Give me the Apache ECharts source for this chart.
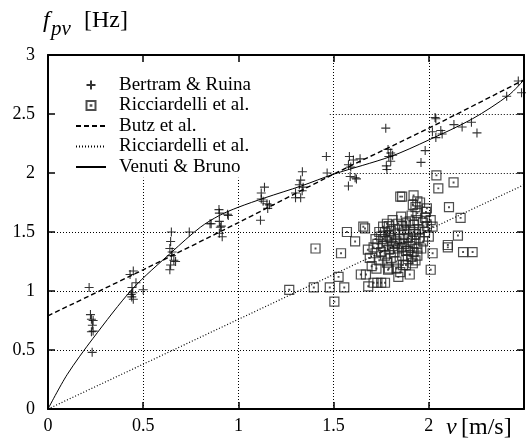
<!DOCTYPE html>
<html>
<head>
<meta charset="utf-8">
<script src="https://cdn.jsdelivr.net/npm/echarts@6/dist/echarts.min.js"></script>
<style>
  html, body { margin: 0; padding: 0; background: #fff; }
  #chart { width: 527px; height: 441px; }
</style>
</head>
<body>
<div id="chart"></div>
<script>
// axis ticks
const xTicks = [0, 0.5, 1, 1.5, 2, 2.5];
const yTicks = [0, 0.5, 1, 1.5, 2, 2.5, 3];

// Bertram & Ruina measurements (v, f)
const bertram = [
  [0.216, 1.03], [0.223, 0.80], [0.228, 0.76], [0.237, 0.75], [0.233, 0.71], [0.228, 0.655], [0.237, 0.66], [0.232, 0.48],
  [0.431, 1.14], [0.448, 1.17], [0.462, 1.07], [0.441, 1.03], [0.445, 0.985], [0.44, 0.95], [0.448, 0.93], [0.5, 1.01], [0.437, 0.97],
  [0.648, 1.50], [0.644, 1.42], [0.64, 1.36], [0.652, 1.33], [0.648, 1.30], [0.661, 1.26], [0.67, 1.25], [0.644, 1.22], [0.64, 1.18], [0.742, 1.50],
  [0.898, 1.69], [0.9, 1.66], [0.943, 1.65], [0.947, 1.64], [0.857, 1.57], [0.9, 1.59], [0.91, 1.55], [0.905, 1.54], [0.9, 1.49], [0.915, 1.46], [0.851, 1.57],
  [1.137, 1.88], [1.12, 1.83], [1.12, 1.78], [1.13, 1.76], [1.15, 1.74], [1.154, 1.70], [1.116, 1.60], [1.163, 1.73],
  [1.336, 2.01], [1.327, 1.94], [1.32, 1.90], [1.34, 1.88], [1.335, 1.85], [1.30, 1.83], [1.30, 1.79], [1.327, 1.79],
  [1.462, 2.14], [1.466, 2.00],
  [1.583, 2.14], [1.604, 2.11], [1.639, 2.12], [1.578, 2.07], [1.59, 2.05], [1.587, 1.97], [1.62, 1.95], [1.578, 1.89], [1.613, 1.96],
  [1.774, 2.38], [1.786, 2.20], [1.80, 2.17], [1.81, 2.15], [1.79, 2.14], [1.777, 2.06], [1.80, 2.10], [1.78, 2.03],
  [1.959, 2.09], [1.981, 2.19], [2.033, 2.47], [2.037, 2.46], [2.019, 2.35], [2.063, 2.36], [2.037, 2.30], [2.07, 2.33],
  [2.132, 2.41], [2.175, 2.39], [2.224, 2.43], [2.253, 2.34], [2.409, 2.65], [2.47, 2.78], [2.487, 2.68]
];

// Ricciardelli et al. measurements (v, f)
const ricciardelli = [
  [1.267, 1.01], [1.396, 1.03], [1.48, 1.03], [1.556, 1.03], [1.504, 0.91], [1.405, 1.36], [1.526, 1.12], [1.539, 1.32],
  [1.570, 1.50], [1.613, 1.42], [1.665, 1.53], [1.656, 1.545], [2.04, 1.98], [2.13, 1.92], [2.05, 1.87], [2.106, 1.71],
  [2.167, 1.62], [2.153, 1.47], [2.10, 1.37], [2.10, 1.39], [2.18, 1.33], [2.23, 1.33], [2.02, 1.32], [2.01, 1.18],
  [1.643, 1.14], [1.67, 1.14], [1.682, 1.04], [1.71, 1.07], [1.73, 1.07], [1.75, 1.07], [1.77, 1.07], [1.90, 1.14],
  [1.84, 1.12], [1.864, 1.22], [1.79, 1.19], [1.725, 1.19], [1.786, 1.18], [1.916, 1.235],
  [1.85, 1.80], [1.86, 1.80], [1.92, 1.81], [1.94, 1.76], [1.93, 1.71], [1.916, 1.73], [1.954, 1.75], [1.99, 1.70],
  [1.76, 1.545], [1.78, 1.57], [1.81, 1.60], [1.855, 1.63], [1.90, 1.59], [1.94, 1.66], [1.985, 1.67], [2.01, 1.60], [2.02, 1.545],
  [1.68, 1.35], [1.69, 1.28], [1.70, 1.21], [1.72, 1.32], [1.73, 1.40], [1.74, 1.26], [1.75, 1.46], [1.75, 1.33],
  [1.76, 1.38], [1.77, 1.30], [1.77, 1.50], [1.78, 1.42], [1.78, 1.24], [1.79, 1.35], [1.79, 1.55], [1.80, 1.45],
  [1.80, 1.28], [1.81, 1.38], [1.82, 1.33], [1.82, 1.48], [1.83, 1.42], [1.83, 1.25], [1.84, 1.52], [1.84, 1.36],
  [1.85, 1.44], [1.86, 1.30], [1.86, 1.55], [1.87, 1.40], [1.87, 1.48], [1.88, 1.34], [1.88, 1.58], [1.89, 1.45],
  [1.89, 1.27], [1.90, 1.52], [1.90, 1.38], [1.91, 1.64], [1.91, 1.43], [1.92, 1.33], [1.92, 1.56], [1.93, 1.48],
  [1.93, 1.40], [1.94, 1.60], [1.94, 1.30], [1.95, 1.52], [1.95, 1.45], [1.96, 1.36], [1.97, 1.58], [1.98, 1.50],
  [1.98, 1.62], [1.99, 1.55], [2.00, 1.46], [1.83, 1.19], [1.85, 1.16], [1.80, 1.51], [1.76, 1.44], [1.71, 1.37],
  [1.86, 1.37], [1.89, 1.34], [1.93, 1.26], [1.97, 1.42], [1.84, 1.57], [1.79, 1.47], [1.87, 1.52], [1.92, 1.50],
  [1.82, 1.40], [1.74, 1.50], [1.72, 1.44], [1.94, 1.36], [1.91, 1.29], [1.88, 1.22]
];

// fitted curves
const butz = [[0, 0.79], [0.5, 1.18], [1, 1.58], [1.5, 1.99], [2, 2.38], [2.5, 2.79]];
const ricciardelliFit = [[0, 0], [2.5, 1.9]];
const venuti = [[0, 0], [0.1, 0.29], [0.237, 0.60], [0.445, 1.02], [0.65, 1.33], [0.8, 1.54], [0.9, 1.64],
  [1.0, 1.71], [1.14, 1.79], [1.33, 1.89], [1.5, 1.99], [1.8, 2.14], [2.0, 2.28], [2.23, 2.46], [2.42, 2.66], [2.5, 2.79]];

const serif = 'Liberation Serif';
const chart = echarts.init(document.getElementById('chart'));

const axisLine = { onZero: false, lineStyle: { color: '#000', width: 2 } };
const axisTick = { inside: true, length: 7, lineStyle: { color: '#000', width: 1.5 } };

// grid segments (the key blanks the upper left part)
const gridDots = [
  [{ coord: [0.5, 0] }, { coord: [0.5, 1.96] }],
  [{ coord: [1, 0] }, { coord: [1, 1.96] }],
  [{ coord: [1.5, 0] }, { coord: [1.5, 3] }],
  [{ coord: [2, 0] }, { coord: [2, 3] }],
  [{ coord: [0, 0.5] }, { coord: [2.5, 0.5] }],
  [{ coord: [0, 1] }, { coord: [2.5, 1] }],
  [{ coord: [0, 1.5] }, { coord: [2.5, 1.5] }],
  [{ coord: [1.48, 2] }, { coord: [2.5, 2] }],
  [{ coord: [1.48, 2.5] }, { coord: [2.5, 2.5] }]
];

const plusPath = 'path://M5 0 L5 10 M0 5 L10 5';
const boxPath = 'path://M0 0 L10 0 L10 10 L0 10 Z M4.6 4.6 L5.4 4.6 L5.4 5.4 L4.6 5.4 Z';
const noMark = { opacity: 0 };

chart.setOption({
  animation: false,
  backgroundColor: '#fff',
  grid: { left: 48, right: 1, top: 55, bottom: 32, containLabel: false },
  xAxis: [
    {
      type: 'value', min: 0, max: 2.5, interval: 0.5, position: 'bottom',
      axisLine, axisTick,
      axisLabel: {
        color: '#000', fontFamily: serif, fontSize: 18, margin: 8,
        formatter: v => (v === 2.5 ? '' : String(v))
      },
      splitLine: { show: false }
    },
    {
      type: 'value', min: 0, max: 2.5, interval: 0.5, position: 'top',
      axisLine, axisTick, axisLabel: { show: false }, splitLine: { show: false }
    }
  ],
  yAxis: [
    {
      type: 'value', min: 0, max: 3, interval: 0.5, position: 'left',
      axisLine, axisTick,
      axisLabel: { color: '#000', fontFamily: serif, fontSize: 18, margin: 13 },
      splitLine: { show: false }
    },
    {
      type: 'value', min: 0, max: 3, interval: 0.5, position: 'right',
      axisLine, axisTick, axisLabel: { show: false }, splitLine: { show: false }
    }
  ],
  legend: {
    orient: 'vertical', left: 70, top: 70, itemWidth: 30, itemHeight: 9, itemGap: 0.5,
    data: [
      'Bertram & Ruina',
      'Ricciardelli et al.',
      { name: 'Butz et al.', itemStyle: noMark },
      { name: 'Ricciardelli et al. (fit)', itemStyle: noMark },
      { name: 'Venuti & Bruno', itemStyle: noMark }
    ],
    formatter: name => name.replace(' (fit)', ''),
    textStyle: { color: '#000', fontFamily: serif, fontSize: 19, lineHeight: 20, padding: [0, 0, 0, 8] }
  },
  graphic: [
    { type: 'text', left: 43, top: 9, style: { text: 'f', font: 'italic 24px ' + serif, fill: '#000' } },
    { type: 'text', left: 51, top: 19, style: { text: 'pv', font: 'italic 21px ' + serif, fill: '#000' } },
    { type: 'text', left: 84, top: 9, style: { text: '[Hz]', font: '24px ' + serif, fill: '#000' } },
    { type: 'text', left: 446, top: 416, style: { text: 'v', font: 'italic 24px ' + serif, fill: '#000' } },
    { type: 'text', left: 461, top: 416, style: { text: '[m/s]', font: '24px ' + serif, fill: '#000' } }
  ],
  series: [
    {
      name: 'grid', type: 'line', data: [], symbol: 'none', silent: true, z: 1,
      markLine: {
        silent: true, symbol: 'none', label: { show: false }, animation: false,
        lineStyle: { color: '#000', width: 1, type: [1, 2] },
        emphasis: { disabled: true },
        data: gridDots
      }
    },
    {
      name: 'Bertram & Ruina', type: 'scatter', data: bertram, symbol: plusPath, symbolSize: 9, z: 3,
      itemStyle: { color: 'transparent', borderColor: '#000', borderWidth: 1.1 }
    },
    {
      name: 'Ricciardelli et al.', type: 'scatter', data: ricciardelli, symbol: boxPath, symbolSize: 9, z: 3,
      itemStyle: { color: 'transparent', borderColor: '#222', borderWidth: 1.2 }
    },
    {
      name: 'Butz et al.', type: 'line', data: butz, symbol: 'none', smooth: 0.3, z: 4,
      itemStyle: { color: '#000' },
      lineStyle: { color: '#000', width: 1.4, type: [5, 3] }
    },
    {
      name: 'Ricciardelli et al. (fit)', type: 'line', data: ricciardelliFit, symbol: 'none', z: 4,
      itemStyle: { color: '#000' },
      lineStyle: { color: '#000', width: 1.2, type: [1, 2] }
    },
    {
      name: 'Venuti & Bruno', type: 'line', data: venuti, symbol: 'none', smooth: 0.3, z: 4,
      itemStyle: { color: '#000' },
      lineStyle: { color: '#000', width: 1 }
    }
  ]
});
</script>
</body>
</html>
